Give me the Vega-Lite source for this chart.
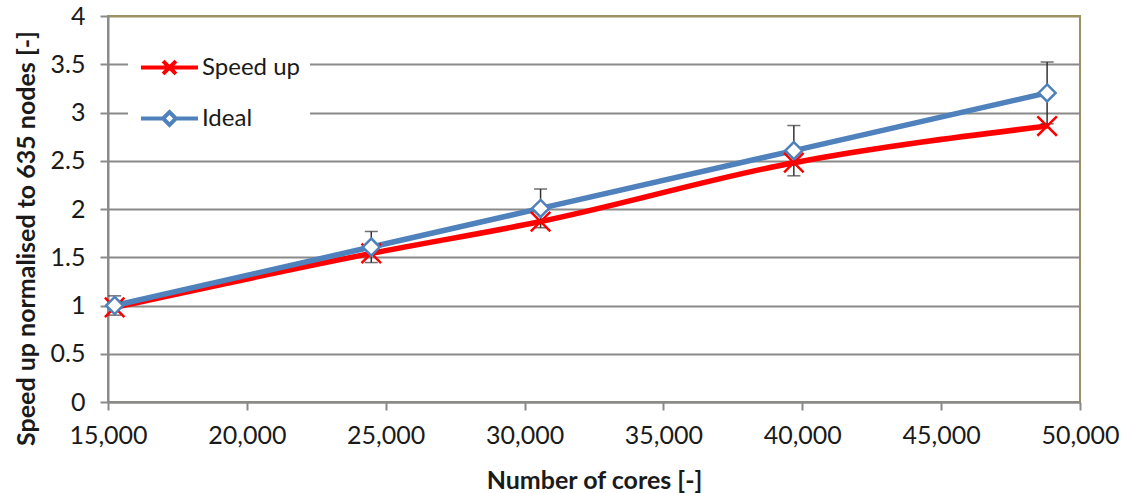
{
  "$schema": "https://vega.github.io/schema/vega-lite/v6.json",
  "width": 972,
  "height": 386,
  "autosize": "none",
  "padding": {"left": 108, "top": 16, "right": 56, "bottom": 91},
  "background": "white",
  "config": {
    "font": "Lato",
    "view": {"stroke": "#9c9160", "strokeWidth": 2},
    "axis": {
      "labelFont": "Lato", "titleFont": "Lato", "labelColor": "#1a1a1a", "titleColor": "#1a1a1a",
      "domainColor": "#8a8a8a", "domainWidth": 2, "tickColor": "#8a8a8a", "tickWidth": 2, "tickSize": 8,
      "gridColor": "#8a8a8a", "gridWidth": 2, "labelFontSize": 25, "titleFontSize": 25, "titleFontWeight": "bold",
      "labelFlush": false, "labelOverlap": false
    }
  },
  "data": {
    "values": [
      {"cores": 15240, "series": "Speed up", "value": 0.98},
      {"cores": 24480, "series": "Speed up", "value": 1.54},
      {"cores": 30576, "series": "Speed up", "value": 1.87},
      {"cores": 39696, "series": "Speed up", "value": 2.48},
      {"cores": 48816, "series": "Speed up", "value": 2.86},
      {"cores": 15240, "series": "Ideal", "value": 1.0, "lo": 0.9, "hi": 1.1},
      {"cores": 24480, "series": "Ideal", "value": 1.606, "lo": 1.445, "hi": 1.767},
      {"cores": 30576, "series": "Ideal", "value": 2.006, "lo": 1.806, "hi": 2.207},
      {"cores": 39696, "series": "Ideal", "value": 2.605, "lo": 2.344, "hi": 2.865},
      {"cores": 48816, "series": "Ideal", "value": 3.203, "lo": 2.883, "hi": 3.523}
    ]
  },
  "encoding": {
    "x": {
      "field": "cores", "type": "quantitative",
      "scale": {"domain": [15000, 50000], "nice": false, "zero": false},
      "axis": {"values": [15000, 20000, 25000, 30000, 35000, 40000, 45000, 50000], "format": ",d", "grid": false,
        "title": "Number of cores [-]", "labelPadding": 13, "titleX": 486, "titleY": 78, "titleBaseline": "middle", "titleAlign": "center"}
    },
    "y": {
      "field": "value", "type": "quantitative",
      "scale": {"domain": [0, 4], "nice": false},
      "axis": {"values": [0, 0.5, 1, 1.5, 2, 2.5, 3, 3.5, 4], "format": "~g", "title": "Speed up normalised to 635 nodes [-]",
        "labelPadding": 15, "titleX": -82, "titleY": 222, "titleAngle": 270, "titleAlign": "center", "titleBaseline": "middle",
        "gridColor": {"condition": {"test": "datum.value == 4", "value": "#9c9160"}, "value": "#8a8a8a"}}
    }
  },
  "layer": [
    {
      "transform": [{"filter": "datum.series == 'Speed up'"}],
      "mark": {"type": "line", "color": "#ff0000", "strokeWidth": 5.5, "interpolate": "monotone"}
    },
    {
      "transform": [{"filter": "datum.series == 'Ideal'"}],
      "mark": {"type": "line", "color": "#4f81bd", "strokeWidth": 5.5}
    },
    {
      "transform": [{"filter": "datum.series == 'Ideal'"}],
      "mark": {"type": "rule", "color": "#333333", "strokeWidth": 1.5},
      "encoding": {"y": {"field": "lo", "type": "quantitative"}, "y2": {"field": "hi"}}
    },
    {
      "transform": [{"filter": "datum.series == 'Ideal'"}],
      "mark": {"type": "tick", "orient": "horizontal", "color": "#333333", "thickness": 1.5, "size": 13},
      "encoding": {"y": {"field": "lo", "type": "quantitative"}}
    },
    {
      "transform": [{"filter": "datum.series == 'Ideal'"}],
      "mark": {"type": "tick", "orient": "horizontal", "color": "#333333", "thickness": 1.5, "size": 13},
      "encoding": {"y": {"field": "hi", "type": "quantitative"}}
    },
    {
      "transform": [{"filter": "datum.series == 'Speed up'"}],
      "mark": {"type": "point", "shape": "M-1,-1L1,1M-1,1L1,-1", "size": 380, "filled": false, "color": "#ff0000", "strokeWidth": 2.5, "opacity": 1}
    },
    {
      "transform": [{"filter": "datum.series == 'Ideal'"}],
      "mark": {"type": "point", "shape": "M0,-1L1,0L0,1L-1,0Z", "size": 290, "filled": true, "fill": "white", "stroke": "#4f81bd", "strokeWidth": 2.5, "opacity": 1}
    },
    {
      "mark": {"type": "point", "filled": false, "opacity": 0, "size": 812, "strokeWidth": 4},
      "encoding": {
        "color": {"field": "series", "type": "nominal", "scale": {"domain": ["Speed up", "Ideal"], "range": ["#ff0000", "#4f81bd"]},
          "legend": {"orient": "none", "legendX": 20, "legendY": 25, "fillColor": "white", "padding": 10, "title": null,
            "labelFont": "Lato", "labelFontSize": 24, "labelColor": "#1a1a1a", "symbolOffset": 15, "labelOffset": 16, "rowPadding": 20,
            "symbolSize": 812, "symbolStrokeWidth": 4, "symbolOpacity": 1, "labelExpr": "datum.label + '                 '"}},
        "shape": {"field": "series", "type": "nominal", "scale": {"domain": ["Speed up", "Ideal"], "range": [
          "M-2,0L2,0M-0.45,-0.45L0.45,0.45M-0.45,0.45L0.45,-0.45",
          "M-2,0L-0.45,0M0.45,0L2,0M-0.45,0L0,-0.45L0.45,0L0,0.45Z"]}}
      }
    }
  ]
}
